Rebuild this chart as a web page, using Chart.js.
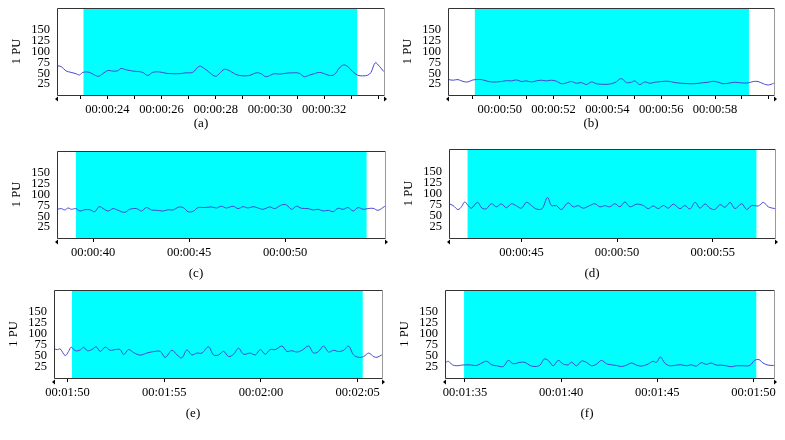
<!DOCTYPE html>
<html lang="en">
<head>
<meta charset="utf-8">
<title>PU signal panels</title>
<script src="https://cdn.jsdelivr.net/npm/chart.js"></script>
<style>
    body { margin: 0; background: #fff; font-family: "Liberation Serif", serif; }
    #wrap { position: relative; width: 785px; height: 440px; overflow: hidden; }
    canvas { position: absolute; }
    .cap { position: absolute; font-size: 13px; color: #000; transform: translate(-50%, -50%); }
</style>
</head>
<body>
<div id="wrap"></div>
<script>
// ---- data (time in seconds, value in PU) ----
const timesA = [22.14, 22.29, 22.47, 22.66, 22.84, 22.97, 23.09, 23.34, 23.52, 23.68, 23.83, 24.01, 24.2, 24.38, 24.5, 24.69, 24.93, 25.12, 25.3, 25.49, 25.67, 25.92, 26.16, 26.41, 26.66, 26.9, 27.15, 27.39, 27.58, 27.76, 27.99, 28.13, 28.32, 28.5, 28.69, 28.87, 29.12, 29.3, 29.49, 29.67, 29.85, 30.04, 30.16, 30.35, 30.59, 30.84, 31.08, 31.27, 31.45, 31.64, 31.82, 32.01, 32.19, 32.38, 32.56, 32.72, 32.87, 33.05, 33.24, 33.42, 33.61, 33.73, 33.89, 34.04, 34.2];
const valuesA = [67, 65.6, 55.5, 52, 49, 46, 52, 52, 46, 43, 49, 56, 55, 55.5, 61, 58, 55, 54, 52, 45, 52, 53, 50, 49, 49, 51, 52, 66, 61, 52, 43, 49, 59, 56, 49, 45, 44, 46, 51, 49, 42, 46, 49, 48, 50, 51, 50, 42, 45.5, 49, 52, 49, 45, 47, 62, 69, 65.6, 54, 45.5, 44, 45.5, 52, 74, 66, 54];

const timesB = [48.1, 48.27, 48.45, 48.64, 48.82, 48.97, 49.13, 49.32, 49.5, 49.69, 49.88, 50.06, 50.25, 50.43, 50.62, 50.81, 50.99, 51.18, 51.36, 51.55, 51.73, 51.92, 52.11, 52.29, 52.48, 52.66, 52.85, 53.04, 53.22, 53.41, 53.59, 53.78, 54.03, 54.28, 54.52, 54.71, 54.89, 55.02, 55.2, 55.39, 55.58, 55.76, 56.01, 56.26, 56.51, 56.75, 57.0, 57.25, 57.5, 57.74, 57.93, 58.12, 58.3, 58.49, 58.74, 58.98, 59.23, 59.42, 59.6, 59.79, 59.98, 60.18];
const valuesB = [35.5, 34, 35.5, 31, 30, 34, 35.5, 35.5, 32.4, 30, 30, 31, 33, 32.4, 34.7, 31, 32.4, 30, 32.4, 34, 32.4, 34, 31.6, 26, 27.8, 31, 27, 28.5, 24, 30, 26, 24.7, 24.7, 28.5, 37.8, 28.5, 29.3, 32.4, 24, 30, 27, 29.3, 31, 31.6, 28.5, 27, 26, 26, 27.8, 29.3, 31.6, 29.3, 26, 27, 29.3, 27.8, 27.8, 31, 31, 26, 23, 27];

const timesC = [38.13, 38.35, 38.52, 38.7, 38.87, 39.1, 39.31, 39.57, 39.83, 40.09, 40.31, 40.56, 40.78, 41.04, 41.3, 41.65, 41.91, 42.26, 42.52, 42.78, 43.04, 43.3, 43.65, 43.91, 44.17, 44.43, 44.69, 44.95, 45.21, 45.47, 45.82, 46.16, 46.42, 46.68, 46.94, 47.29, 47.55, 47.81, 48.07, 48.33, 48.59, 48.85, 49.2, 49.46, 49.81, 50.07, 50.33, 50.59, 50.85, 51.2, 51.46, 51.72, 51.98, 52.24, 52.5, 52.76, 53.02, 53.28, 53.54, 53.8, 54.06, 54.32, 54.58, 54.84, 55.19];
const valuesC = [66, 67.6, 64.4, 69, 66, 67.6, 62, 65, 65, 60.5, 72, 66.8, 62, 67.6, 63.7, 59, 66, 67.6, 62, 70, 64.4, 63.7, 62, 65, 64.4, 70.7, 70, 60.5, 61.3, 70, 70, 71.4, 69, 73, 69, 73, 67.6, 72, 69, 72, 69, 66, 71.4, 67.6, 76, 76, 66, 73, 68.3, 67.6, 64.4, 66, 62, 63.7, 60.5, 68.3, 66, 70, 62, 70, 66, 67.6, 68.3, 63.7, 73];

const timesD = [41.21, 41.42, 41.68, 41.86, 42.03, 42.21, 42.38, 42.7, 42.94, 43.17, 43.43, 43.69, 43.95, 44.21, 44.48, 44.74, 45.0, 45.26, 45.52, 45.79, 46.08, 46.36, 46.57, 46.83, 47.09, 47.44, 47.71, 47.97, 48.23, 48.58, 48.84, 49.1, 49.36, 49.62, 49.89, 50.15, 50.41, 50.67, 51.02, 51.37, 51.63, 51.89, 52.16, 52.42, 52.68, 52.94, 53.29, 53.55, 53.81, 54.08, 54.34, 54.6, 54.86, 55.12, 55.38, 55.65, 55.91, 56.17, 56.52, 56.78, 57.04, 57.39, 57.65, 57.91, 58.25];
const valuesD = [77, 73, 64, 70, 81, 73, 67, 80, 67, 66, 77, 70, 76.6, 68, 77, 72, 67, 80, 73, 65, 66, 91, 73, 72.6, 64, 79, 70, 72.6, 67, 73, 77, 70, 72.6, 70, 77, 70, 81, 70, 76, 73, 66, 72, 66, 73, 67, 76, 66, 73, 65, 80, 67, 76.6, 67, 64, 75, 69, 80, 66, 77, 64, 73, 72, 80, 70, 66];

const timesE = [109.31, 109.48, 109.62, 109.88, 110.05, 110.19, 110.4, 110.66, 110.83, 111.03, 111.26, 111.48, 111.69, 111.95, 112.21, 112.47, 112.72, 112.9, 113.16, 113.41, 113.76, 114.1, 114.45, 114.79, 115.05, 115.4, 115.66, 115.91, 116.17, 116.43, 116.69, 116.95, 117.29, 117.55, 117.81, 118.07, 118.33, 118.59, 118.84, 119.1, 119.45, 119.71, 119.97, 120.22, 120.48, 120.74, 121.09, 121.34, 121.6, 121.86, 122.12, 122.47, 122.72, 122.98, 123.24, 123.5, 123.76, 124.02, 124.28, 124.53, 124.79, 125.05, 125.31, 125.57, 125.83, 126.0, 126.25];
const valuesE = [66, 64.6, 66, 51, 60, 70, 62, 63.6, 70, 62, 64.6, 71, 60.5, 70, 63, 64.6, 64.6, 53.4, 64.6, 58, 52, 56.6, 60, 60.5, 47, 63, 52.5, 45.6, 63.6, 52.5, 56.6, 56.6, 71, 52.5, 52.5, 60.5, 48.7, 54, 67.7, 54, 56.6, 52.5, 64.6, 54, 64.6, 64.6, 72.5, 60.5, 62, 59, 63, 72.5, 56.6, 60.5, 72.5, 59, 63, 60, 63, 72.5, 52.5, 47, 48.7, 56.6, 48.7, 47, 52.5];

const timesF = [93.96, 94.13, 94.34, 94.57, 94.83, 95.09, 95.35, 95.61, 95.87, 96.13, 96.39, 96.65, 96.99, 97.25, 97.51, 97.86, 98.12, 98.38, 98.64, 98.9, 99.12, 99.33, 99.59, 99.85, 100.11, 100.37, 100.54, 100.8, 101.06, 101.32, 101.58, 101.84, 102.1, 102.36, 102.62, 102.88, 103.14, 103.4, 103.66, 103.92, 104.18, 104.52, 104.78, 104.96, 105.16, 105.39, 105.65, 106.0, 106.26, 106.52, 106.77, 107.03, 107.29, 107.55, 107.81, 108.07, 108.33, 108.59, 108.85, 109.11, 109.46, 109.81, 110.06, 110.29, 110.5, 110.76, 111.06];
const valuesF = [34, 38, 30, 27.8, 29.3, 30, 29.3, 28.5, 34, 38, 30, 27.8, 26, 40, 32.4, 35.5, 35.5, 28.5, 26, 29.3, 43, 40, 27.8, 40, 31.6, 30, 36, 27.8, 38.6, 35.5, 27.8, 31.6, 40, 32.4, 30, 28.5, 26, 29.3, 34, 29.3, 27, 31.6, 38, 35.5, 47.8, 34, 27.8, 29.3, 30, 27.8, 30, 27, 34.7, 31, 34, 29.3, 29.3, 27.8, 25.5, 27.8, 27.8, 28.5, 40, 41.7, 34, 29.3, 28.5];

// visible time window and shaded (cyan) interval of each panel
const rangeA = [22.14, 34.21], shadeA = [23.11, 33.23];
const rangeB = [48.08, 60.19], shadeB = [49.07, 59.26];
const rangeC = [38.12, 55.2], shadeC = [39.1, 54.25];
const rangeD = [41.21, 58.26], shadeD = [42.17, 57.3];
const rangeE = [109.3, 126.26], shadeE = [110.22, 125.27];
const rangeF = [93.96, 111.07], shadeF = [94.95, 110.16];

// x tick marks and which of them carry a label
const ticksA = [23, 24, 25, 26, 27, 28, 29, 30, 31, 32, 33, 34], labelsA = [24, 26, 28, 30, 32];
const ticksB = [49, 50, 51, 52, 53, 54, 55, 56, 57, 58, 59, 60], labelsB = [50, 52, 54, 56, 58];
const ticksC = [40, 45, 50], labelsC = [40, 45, 50];
const ticksD = [45, 50, 55], labelsD = [45, 50, 55];
const ticksE = [110, 115, 120, 125], labelsE = [110, 115, 120, 125];
const ticksF = [95, 100, 105, 110], labelsF = [95, 100, 105, 110];

const yTicks = [25, 50, 75, 100, 125, 150];
const yMax = 200;
const captions = ['(a)', '(b)', '(c)', '(d)', '(e)', '(f)'];

// ---- layout (plot box in page pixels, caption centre) ----
const layout = [
    { l: 57, t: 8, r: 384, b: 95, cx: 201, cy: 123 },
    { l: 448, t: 8, r: 774, b: 95, cx: 591, cy: 123 },
    { l: 57, t: 151, r: 385, b: 238, cx: 196, cy: 273 },
    { l: 449, t: 149, r: 775, b: 238, cx: 592, cy: 273 },
    { l: 54, t: 290, r: 382, b: 378, cx: 193, cy: 413 },
    { l: 445, t: 290, r: 774, b: 378, cx: 587, cy: 413 }
];

const panels = [
    [timesA, valuesA, rangeA, shadeA, ticksA, labelsA],
    [timesB, valuesB, rangeB, shadeB, ticksB, labelsB],
    [timesC, valuesC, rangeC, shadeC, ticksC, labelsC],
    [timesD, valuesD, rangeD, shadeD, ticksD, labelsD],
    [timesE, valuesE, rangeE, shadeE, ticksE, labelsE],
    [timesF, valuesF, rangeF, shadeF, ticksF, labelsF]
];

const FONT = { family: '"Liberation Serif", "Times New Roman", serif', size: 12.5 };
const YAXIS_W = 50, XAXIS_H = 28, PAD_T = 2, PAD_R = 30;

function fmtTime(sec) {
    const s = Math.round(sec);
    const two = n => String(n).padStart(2, '0');
    return two(Math.floor(s / 3600)) + ':' + two(Math.floor(s / 60) % 60) + ':' + two(s % 60);
}

// frame around the plot plus the little arrow heads at the ends of the time axis
const framePlugin = {
    id: 'frame',
    afterDraw(chart) {
        const { ctx, chartArea: a } = chart;
        ctx.save();
        ctx.lineWidth = 1;
        ctx.strokeStyle = '#333';
        ctx.beginPath();
        ctx.moveTo(a.right + 0.5, a.top + 0.5);
        ctx.lineTo(a.left + 0.5, a.top + 0.5);
        ctx.lineTo(a.left + 0.5, a.bottom + 0.5);
        ctx.lineTo(a.right + 0.5, a.bottom + 0.5);
        ctx.stroke();
        ctx.strokeStyle = '#999';
        ctx.beginPath();
        ctx.moveTo(a.right + 0.5, a.top + 0.5);
        ctx.lineTo(a.right + 0.5, a.bottom + 0.5);
        ctx.stroke();
        ctx.fillStyle = '#000';
        const y = a.bottom + 4;
        ctx.beginPath();
        ctx.moveTo(a.left - 2, y); ctx.lineTo(a.left + 1, y - 2.5); ctx.lineTo(a.left + 1, y + 2.5);
        ctx.closePath(); ctx.fill();
        ctx.beginPath();
        ctx.moveTo(a.right + 3, y); ctx.lineTo(a.right, y - 2.5); ctx.lineTo(a.right, y + 2.5);
        ctx.closePath(); ctx.fill();
        ctx.restore();
    }
};

const wrap = document.getElementById('wrap');

panels.forEach(([times, values, range, shade, ticks, labels], i) => {
    const box = layout[i];
    const canvas = document.createElement('canvas');
    const w = (box.r - box.l) + YAXIS_W + PAD_R;
    const h = (box.b - box.t) + PAD_T + XAXIS_H;
    canvas.width = w;
    canvas.height = h;
    canvas.style.left = (box.l - YAXIS_W) + 'px';
    canvas.style.top = (box.t - PAD_T) + 'px';
    canvas.style.width = w + 'px';
    canvas.style.height = h + 'px';
    wrap.appendChild(canvas);

    const cap = document.createElement('div');
    cap.className = 'cap';
    cap.textContent = captions[i];
    cap.style.left = box.cx + 'px';
    cap.style.top = box.cy + 'px';
    wrap.appendChild(cap);

    new Chart(canvas, {
        type: 'line',
        data: {
            datasets: [
                {
                    // shaded analysis window
                    data: [{ x: shade[0], y: yMax }, { x: shade[1], y: yMax }],
                    fill: 'origin',
                    backgroundColor: '#00ffff',
                    borderWidth: 0,
                    pointRadius: 0,
                    order: 2
                },
                {
                    data: times.map((t, k) => ({ x: t, y: values[k] })),
                    borderColor: '#4646d6',
                    borderWidth: 1,
                    pointRadius: 0,
                    tension: 0.35,
                    fill: false,
                    order: 1
                }
            ]
        },
        options: {
            responsive: false,
            animation: false,
            devicePixelRatio: 1,
            layout: { padding: { left: 0, top: PAD_T, right: PAD_R, bottom: 0 } },
            plugins: { legend: { display: false }, tooltip: { enabled: false } },
            scales: {
                x: {
                    type: 'linear',
                    min: range[0],
                    max: range[1],
                    afterBuildTicks: ax => { ax.ticks = ticks.map(v => ({ value: v })); },
                    afterFit: ax => { ax.height = XAXIS_H; ax.paddingLeft = 0; ax.paddingRight = 0; },
                    grid: { drawOnChartArea: false, drawTicks: true, tickLength: 4, color: '#000' },
                    border: { display: false },
                    ticks: {
                        autoSkip: false,
                        maxRotation: 0,
                        padding: 3,
                        color: '#000',
                        font: FONT,
                        callback: v => labels.includes(v) ? fmtTime(v) : ''
                    }
                },
                y: {
                    min: 0,
                    max: yMax,
                    afterBuildTicks: ax => { ax.ticks = yTicks.map(v => ({ value: v })); },
                    afterFit: ax => { ax.width = YAXIS_W; ax.paddingTop = 0; ax.paddingBottom = 0; },
                    grid: { display: false, drawTicks: false },
                    border: { display: false },
                    ticks: { autoSkip: false, padding: 7, color: '#000', font: FONT },
                    title: {
                        display: true,
                        text: '1 PU',
                        color: '#000',
                        font: FONT,
                        padding: { top: 2, bottom: 0 }
                    }
                }
            }
        },
        plugins: [framePlugin]
    });
});
</script>
</body>
</html>
